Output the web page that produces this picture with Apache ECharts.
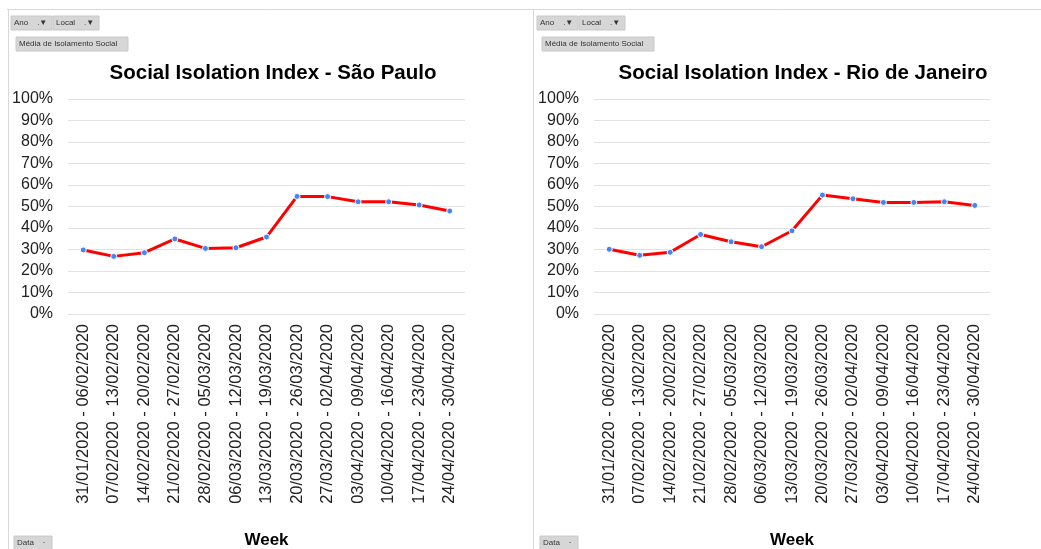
<!DOCTYPE html>
<html>
<head>
<meta charset="utf-8">
<script src="https://cdn.jsdelivr.net/npm/echarts@6/dist/echarts.min.js"></script>
<style>
  html, body { margin: 0; padding: 0; background: #fff; }
  #chart { width: 1041px; height: 549px; }
</style>
</head>
<body>
<div id="chart"></div>
<script>
// semanas (eixo x)
const weeks = [
  '31/01/2020 - 06/02/2020', '07/02/2020 - 13/02/2020', '14/02/2020 - 20/02/2020',
  '21/02/2020 - 27/02/2020', '28/02/2020 - 05/03/2020', '06/03/2020 - 12/03/2020',
  '13/03/2020 - 19/03/2020', '20/03/2020 - 26/03/2020', '27/03/2020 - 02/04/2020',
  '03/04/2020 - 09/04/2020', '10/04/2020 - 16/04/2020', '17/04/2020 - 23/04/2020',
  '24/04/2020 - 30/04/2020'
];

// índice de isolamento (%)
const saoPaulo = [29.8, 26.8, 28.5, 34.9, 30.5, 30.8, 35.8, 54.7, 54.6, 52.2, 52.2, 50.7, 47.9];
const rioDeJaneiro = [30.1, 27.3, 28.7, 37.0, 33.6, 31.3, 38.7, 55.3, 53.6, 51.9, 51.9, 52.2, 50.5];

const titles = ['Social Isolation Index - São Paulo', 'Social Isolation Index - Rio de Janeiro'];

const font = 'Arial, "Liberation Sans", sans-serif';
const chart = echarts.init(document.getElementById('chart'));

/* eixo x de cada painel */
const makeX = idx => ({
  type: 'category',
  gridIndex: idx,
  data: weeks,
  name: 'Week',
  nameLocation: 'middle',
  nameGap: 218,
  nameTextStyle: { fontFamily: font, fontSize: 17, fontWeight: 'bold', color: '#000' },
  axisLine: { show: false },
  axisTick: { show: false },
  axisLabel: { rotate: 90, interval: 0, margin: 10, fontFamily: font, fontSize: 16.5, color: '#222' }
});

const makeY = idx => ({
  type: 'value',
  gridIndex: idx,
  min: 0,
  max: 100,
  interval: 10,
  axisLine: { show: false },
  axisTick: { show: false },
  axisLabel: { formatter: '{value}%', margin: 15, fontFamily: font, fontSize: 16, color: '#222' },
  splitLine: { lineStyle: { color: '#e2e2e2', width: 1 } }
});

const makeSeries = (idx, data) => ({
  type: 'line',
  xAxisIndex: idx,
  yAxisIndex: idx,
  data: data,
  symbol: 'circle',
  symbolSize: 6,
  lineStyle: { color: '#ff0000', width: 3 },
  itemStyle: { color: '#4285f4', borderColor: '#fff', borderWidth: 1 }
});

/* botões de filtro estilo tabela dinâmica */
const button = (x, y, w, h, label) => ({
  type: 'group',
  x: x,
  y: y,
  children: [
    { type: 'rect', shape: { x: 0, y: 0, width: w, height: h }, style: { fill: '#d6d6d6', stroke: '#c8c8c8' } },
    { type: 'text', x: 3, y: h / 2, style: { text: label, fontSize: 8, fontFamily: font, fill: '#333', verticalAlign: 'middle' } }
  ]
});

const panelDecor = ox => [
  button(ox + 11, 16, 41, 14, 'Ano    .▼'),
  button(ox + 53, 16, 46, 14, 'Local    .▼'),
  button(ox + 16, 37, 112, 14, 'Média de Isolamento Social'),
  button(ox + 14, 536, 38, 14, 'Data    ·')
];

const option = {
  animation: false,
  backgroundColor: '#fff',
  title: [
    { text: titles[0], left: 268, top: 58, textAlign: 'center',
      textStyle: { fontFamily: font, fontSize: 20.5, fontWeight: 'bold', color: '#000' } },
    { text: titles[1], left: 798, top: 58, textAlign: 'center',
      textStyle: { fontFamily: font, fontSize: 20.5, fontWeight: 'bold', color: '#000' } }
  ],
  grid: [
    { left: 68, top: 99, width: 397, height: 215, outerBoundsMode: 'none' },
    { left: 594, top: 99, width: 396, height: 215, outerBoundsMode: 'none' }
  ],
  xAxis: [makeX(0), makeX(1)],
  yAxis: [makeY(0), makeY(1)],
  series: [makeSeries(0, saoPaulo), makeSeries(1, rioDeJaneiro)],
  graphic: [
    { type: 'line', shape: { x1: 7, y1: 9.5, x2: 1041, y2: 9.5 }, style: { stroke: '#d8d8d8', lineWidth: 1 } },
    { type: 'line', shape: { x1: 8.5, y1: 9, x2: 8.5, y2: 549 }, style: { stroke: '#d8d8d8', lineWidth: 1 } },
    { type: 'line', shape: { x1: 533.5, y1: 9, x2: 533.5, y2: 549 }, style: { stroke: '#d8d8d8', lineWidth: 1 } }
  ].concat(panelDecor(0), panelDecor(526))
};

chart.setOption(option);
</script>
</body>
</html>
